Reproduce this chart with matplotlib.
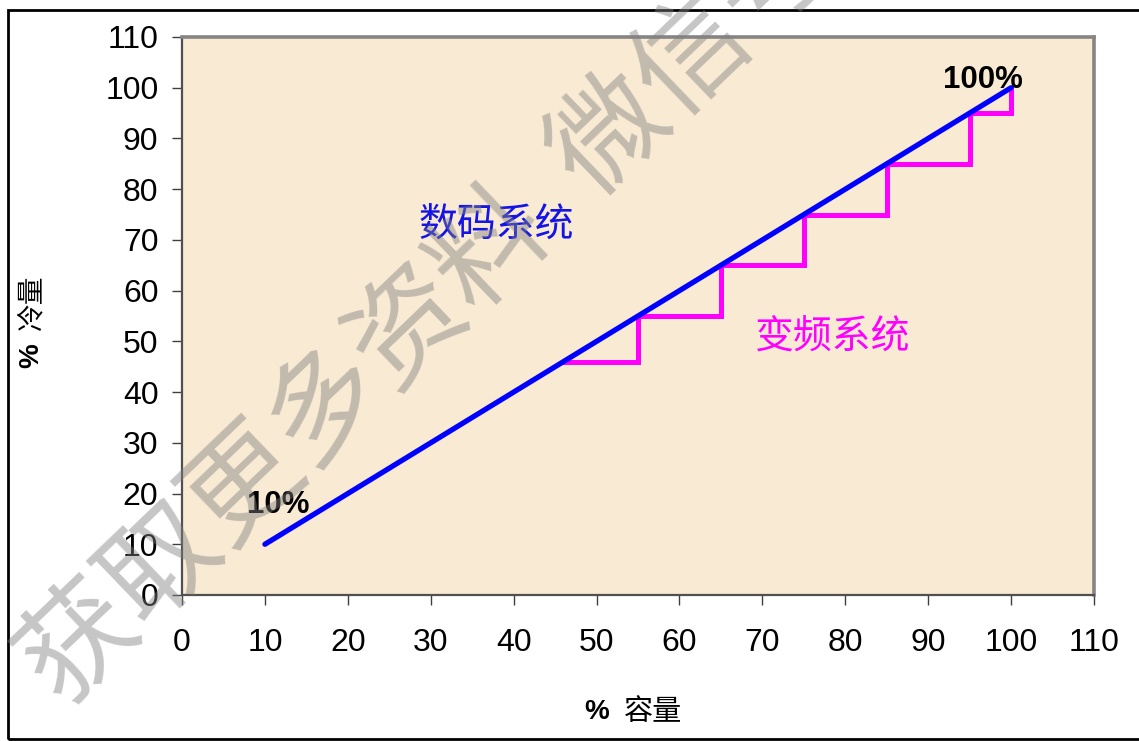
import matplotlib
matplotlib.use("Agg")
import matplotlib.pyplot as plt
from matplotlib.patches import Rectangle

plt.rcParams['font.family'] = ['Liberation Sans', 'Noto Sans CJK SC', 'DejaVu Sans']

# ---- data ----
digital_x = [10, 100]
digital_y = [10, 100]
inverter_x = [46, 55, 65, 75, 85, 95, 100]
inverter_y = [46, 55, 65, 75, 85, 95, 100]
ticks = [0, 10, 20, 30, 40, 50, 60, 70, 80, 90, 100, 110]
label_digital = "数码系统"
label_inverter = "变频系统"
pt_start = "10%"
pt_end = "100%"
xlabel_cn = "容量"
ylabel_cn = "冷量"
watermark = "获取更多资料  微信号"

W, H = 1139, 741
fig = plt.figure(figsize=(W / 100, H / 100), dpi=100)
fig.patch.set_facecolor('white')


def fx(px):
    return px / W


def fy(py):
    return 1 - py / H


left, right, top, bottom = 182, 1094, 37, 595
ax = fig.add_axes([fx(left), fy(bottom), (right - left) / W, (bottom - top) / H])
ax.set_facecolor('#f8ead3')

# outer frame
frame = Rectangle((fx(8), 2 / H), 1.02, (H - 12) / H, transform=fig.transFigure,
                  facecolor='none', edgecolor='black', linewidth=2.0, zorder=-3)
fig.patches.append(frame)

ax.plot(digital_x, digital_y, color='#0000ff', linewidth=3.8, solid_capstyle='round', zorder=3)
ax.plot(inverter_x, inverter_y, color='#ff00ff', linewidth=3.6, drawstyle='steps-post',
        solid_joinstyle='miter', zorder=2)

ax.set_xlim(0, 110)
ax.set_ylim(0, 110)
ax.set_xticks(ticks)
ax.set_yticks(ticks)
ax.tick_params(direction='out', length=7, width=1, color='#404040',
               labelsize=23, labelcolor='black')
ax.tick_params(axis='x', pad=17)
ax.tick_params(axis='y', pad=10)

for s in ['left', 'bottom']:
    ax.spines[s].set_color('#505050')
    ax.spines[s].set_linewidth(1.6)
for s in ['top', 'right']:
    ax.spines[s].set_color('#858585')
    ax.spines[s].set_linewidth(2.6)

ax.text(37.9, 72.8, label_digital, color='#1414e6', fontsize=28, ha='center', va='center',
        family=['Noto Sans CJK SC'], zorder=4)
ax.text(78.5, 50.7, label_inverter, color='#ff00ff', fontsize=28, ha='center', va='center',
        family=['Noto Sans CJK SC'], zorder=4)
ax.text(11.6, 17.7, pt_start, fontsize=22.5, fontweight='bold', ha='center', va='center', zorder=4)
ax.text(96.6, 101.6, pt_end, fontsize=22.5, fontweight='bold', ha='center', va='center', zorder=4)

# axis labels: bold "%" + Chinese text
fig.text(fx(597), fy(712), "%", fontsize=20, fontweight='bold', ha='center', va='center')
fig.text(fx(653), fy(712), xlabel_cn, fontsize=21, ha='center', va='center',
         family=['Noto Sans CJK SC'])
fig.text(fx(31), fy(356), "%", fontsize=20, fontweight='bold', ha='center', va='center',
         rotation=90)
fig.text(fx(31), fy(302), ylabel_cn, fontsize=20, ha='center', va='center', rotation=90,
         family=['Noto Sans CJK SC'])

# watermark (semi-transparent, on top)
fig.text(fx(39), fy(684), watermark, fontsize=82, color='#808080', alpha=0.45,
         rotation=43.8, rotation_mode='anchor', ha='left', va='center',
         family=['Noto Sans CJK SC', 'DejaVu Sans'], zorder=10)

fig.savefig('out.png', dpi=100)
